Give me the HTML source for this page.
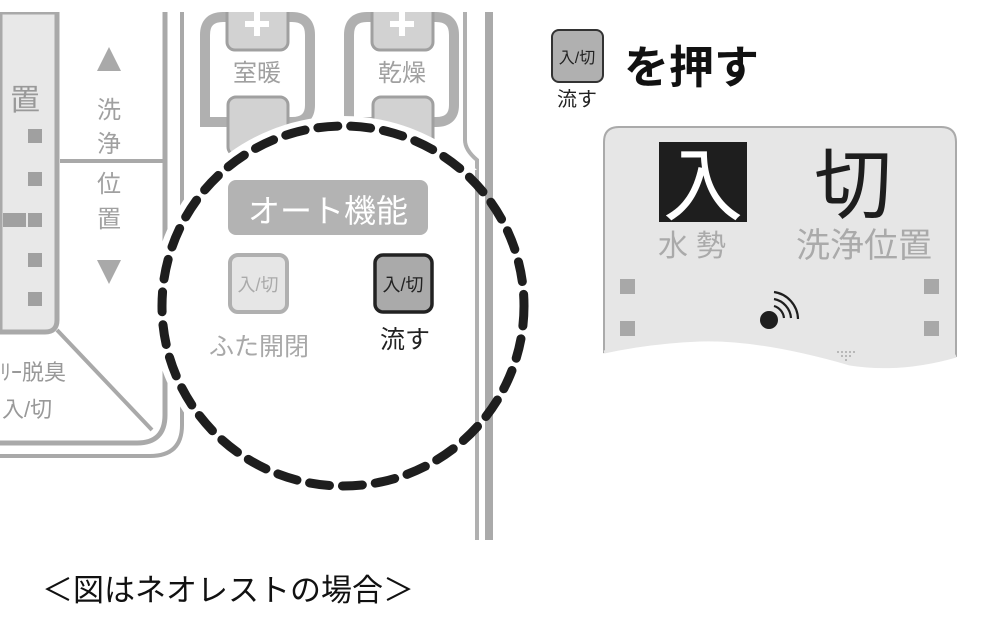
<!DOCTYPE html>
<html><head><meta charset="utf-8">
<style>
html,body{margin:0;padding:0;background:#fff;}
svg{display:block;}
text{font-family:"Liberation Sans","Noto Sans CJK JP",sans-serif;}
</style></head><body>
<svg width="981" height="636" viewBox="0 0 981 636" xmlns="http://www.w3.org/2000/svg">
<rect width="981" height="636" fill="#fff"/>
<!-- left panel -->
<path d="M0 12 H57 V320 Q57 332 45 332 H0 Z" fill="#e8e8e8" stroke="#a9a9a9" stroke-width="5"/>
<text x="10" y="110" font-size="30" fill="#999">置</text>
<g fill="#a0a0a0">
<rect x="28" y="129" width="14" height="14"/>
<rect x="28" y="172" width="14" height="14"/>
<rect x="3" y="213" width="23" height="14"/>
<rect x="28" y="213" width="14" height="14"/>
<rect x="28" y="253" width="14" height="14"/>
<rect x="28" y="292" width="14" height="14"/>
</g>
<line x1="60" y1="161" x2="163" y2="161" stroke="#a9a9a9" stroke-width="4"/>
<polygon points="109,47 97,71 121,71" fill="#a9a9a9"/>
<polygon points="97,260 121,260 109,284" fill="#a9a9a9"/>
<g font-size="24" fill="#a0a0a0" text-anchor="middle">
<text x="109" y="118">洗</text>
<text x="109" y="152">浄</text>
<text x="109" y="192">位</text>
<text x="109" y="227">置</text>
</g>
<line x1="57" y1="330" x2="152" y2="430" stroke="#a9a9a9" stroke-width="4"/>
<text x="0" y="380" font-size="22" fill="#999">ﾘｰ脱臭</text>
<text x="2" y="417" font-size="22" fill="#999">入/切</text>
<path d="M165 12 V415 Q165 443 137 443 H0" fill="none" stroke="#a9a9a9" stroke-width="5"/>
<path d="M182 12 V425 Q182 456 150 456 H0" fill="none" stroke="#a9a9a9" stroke-width="4"/>
<!-- right vertical lines -->
<path d="M465 12 V140 Q465 150 477 160 V540" fill="none" stroke="#b0b0b0" stroke-width="4"/>
<line x1="489" y1="12" x2="489" y2="540" stroke="#aaa" stroke-width="8"/>
<!-- 室暖 -->
<path d="M205 122 V35 Q205 17 223 17 H292 Q310 17 310 35 V105 Q310 122 292 122 Z" fill="none" stroke="#b0b0b0" stroke-width="10"/>
<rect x="227" y="4" width="61" height="46" rx="8" fill="#d2d2d2" stroke="#a0a0a0" stroke-width="3"/>
<path d="M257 12 V36 M245 24 H269" stroke="#fff" stroke-width="6"/>
<rect x="229" y="57" width="57" height="30" fill="#fff"/>
<text x="257" y="81" font-size="24" fill="#a0a0a0" text-anchor="middle">室暖</text>
<rect x="228" y="97" width="60" height="58" rx="8" fill="#d2d2d2" stroke="#a0a0a0" stroke-width="3"/>
<!-- 乾燥 -->
<path d="M349 122 V35 Q349 17 367 17 H436 Q454 17 454 35 V105 Q454 122 436 122 Z" fill="none" stroke="#b0b0b0" stroke-width="10"/>
<rect x="372" y="4" width="61" height="46" rx="8" fill="#d2d2d2" stroke="#a0a0a0" stroke-width="3"/>
<path d="M402 12 V36 M390 24 H414" stroke="#fff" stroke-width="6"/>
<rect x="374" y="57" width="57" height="30" fill="#fff"/>
<text x="402" y="81" font-size="24" fill="#a0a0a0" text-anchor="middle">乾燥</text>
<rect x="373" y="97" width="60" height="58" rx="8" fill="#d2d2d2" stroke="#a0a0a0" stroke-width="3"/>
<rect x="0" y="0" width="981" height="12" fill="#fff"/>
<!-- circle -->
<ellipse cx="343" cy="306" rx="183" ry="181" fill="#fff" stroke="#fff" stroke-width="18"/>
<path d="M477 170 V470" stroke="#b0b0b0" stroke-width="4"/>
<path d="M489 150 V480" stroke="#aaa" stroke-width="8"/>
<rect x="228" y="180" width="200" height="55" rx="8" fill="#b3b3b3"/>
<text x="328" y="222" font-size="32" fill="#fff" text-anchor="middle">オート機能</text>
<rect x="230" y="255" width="57" height="57" rx="8" fill="#e6e6e6" stroke="#b0b0b0" stroke-width="4"/>
<text x="258" y="291" font-size="18" fill="#aaa" text-anchor="middle">入/切</text>
<text x="259" y="355" font-size="25" fill="#a8a8a8" text-anchor="middle">ふた開閉</text>
<rect x="375" y="255" width="57" height="57" rx="8" fill="#aaa" stroke="#222" stroke-width="3.5"/>
<text x="403" y="291" font-size="18" fill="#222" text-anchor="middle">入/切</text>
<text x="405" y="348" font-size="25" fill="#222" text-anchor="middle">流す</text>
<ellipse cx="343" cy="306" rx="181" ry="180" fill="none" stroke="#1e1e1e" stroke-width="9" stroke-dasharray="20 13" stroke-linecap="round"/>
<!-- right top -->
<rect x="552" y="30" width="51" height="52" rx="7" fill="#b0b0b0" stroke="#333" stroke-width="2"/>
<text x="577" y="63" font-size="16" fill="#222" text-anchor="middle">入/切</text>
<text x="577" y="106" font-size="20" fill="#222" text-anchor="middle">流す</text>
<text x="624" y="83" font-size="45" font-weight="bold" fill="#111">を押す</text>
<!-- display panel -->
<path d="M604 352 V142 Q604 127 619 127 H941 Q956 127 956 142 V356 Q900 372 850 364 Q760 338 700 340 Q650 342 604 352 Z" fill="#e6e6e6" stroke="#aaa" stroke-width="2"/>
<path d="M604 352 Q650 342 700 340 Q760 338 850 364 Q900 372 956 356" fill="none" stroke="#e6e6e6" stroke-width="3"/>
<rect x="659" y="142" width="88" height="80" fill="#1e1e1e"/>
<text x="703" y="214" font-size="80" fill="#fff" text-anchor="middle">入</text>
<text x="853" y="212" font-size="78" fill="#1e1e1e" text-anchor="middle">切</text>
<text x="696" y="256" font-size="30" fill="#aaa" text-anchor="middle" letter-spacing="8">水勢</text>
<text x="864" y="257" font-size="34" fill="#aaa" text-anchor="middle">洗浄位置</text>
<g fill="#a8a8a8">
<rect x="620" y="279" width="15" height="15"/>
<rect x="620" y="321" width="15" height="15"/>
<rect x="924" y="279" width="15" height="15"/>
<rect x="924" y="321" width="15" height="15"/>
</g>
<circle cx="769" cy="320" r="9" fill="#1e1e1e"/>
<g fill="none" stroke="#1e1e1e" stroke-width="2.2">
<path d="M774 306 A14 14 0 0 1 784 318"/>
<path d="M774 299 A21 21 0 0 1 791 318"/>
<path d="M774 292 A28 28 0 0 1 798 319"/>
</g>
<g fill="#aaa">
<circle cx="838" cy="352" r="1"/><circle cx="842" cy="352" r="1"/><circle cx="846" cy="352" r="1"/><circle cx="850" cy="352" r="1"/><circle cx="854" cy="352" r="1"/>
<circle cx="842" cy="356" r="1"/><circle cx="846" cy="356" r="1"/><circle cx="850" cy="356" r="1"/>
<circle cx="846" cy="360" r="1"/>
</g>
<!-- caption -->
<text x="42" y="601" font-size="31" fill="#111">＜図はネオレストの場合＞</text>
</svg>
</body></html>
